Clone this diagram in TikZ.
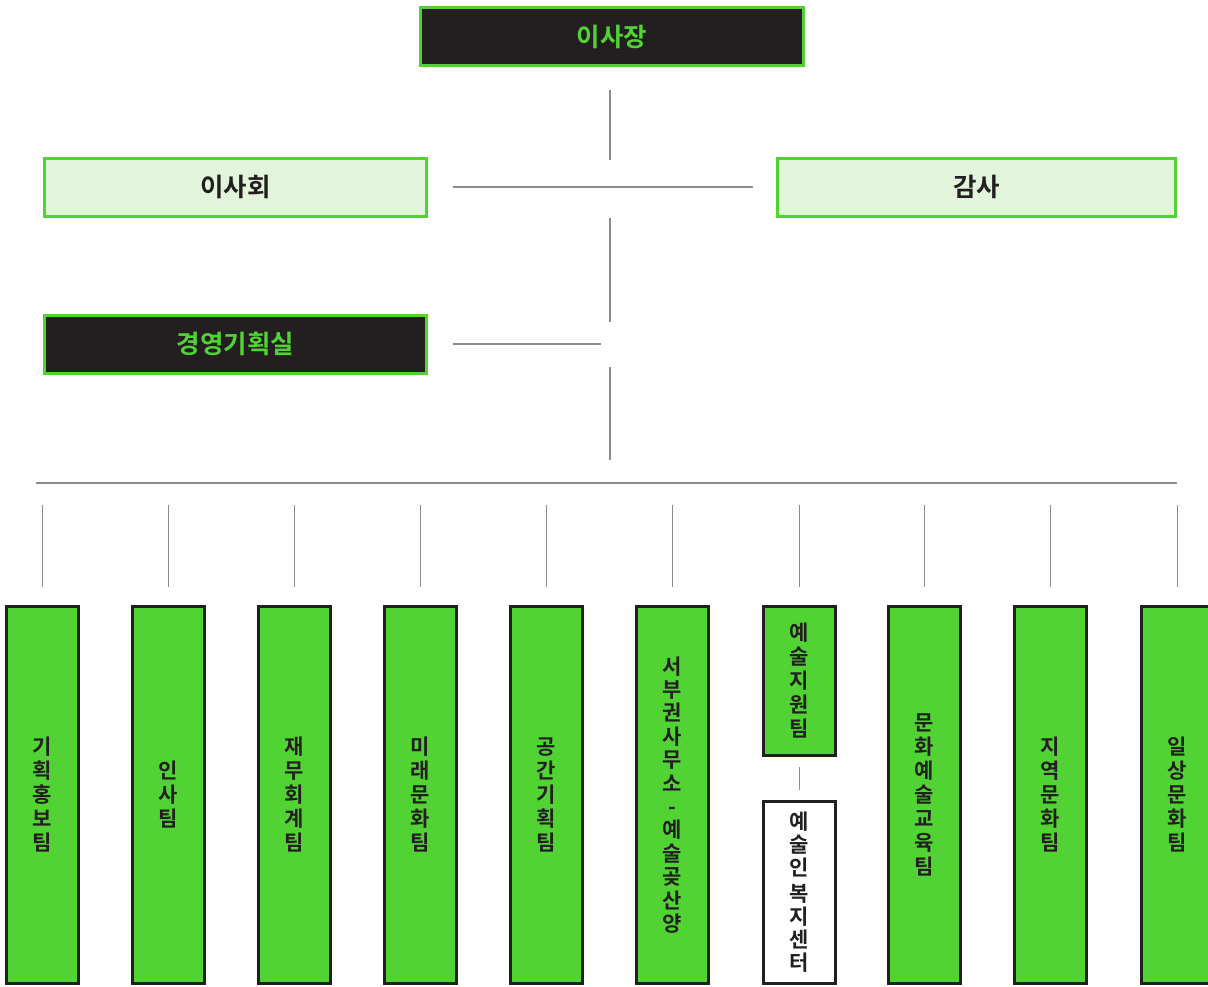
\documentclass[tikz,border=0pt]{standalone}
\usepackage{fontspec}
\setmainfont{Noto Sans CJK KR}[BoldFont={Noto Sans CJK KR Bold}]
\definecolor{ink}{HTML}{231F20}
\definecolor{lime}{HTML}{52D334}
\definecolor{pale}{HTML}{E2F5DA}
\definecolor{wire}{HTML}{8C8C8C}
\tikzset{
  topbox/.style={draw=lime, line width=3pt, inner sep=0pt, minimum height=58pt, font=\bfseries\fontsize{25.5}{30}\selectfont},
  darkbox/.style={topbox, fill=ink, text=lime},
  lightbox/.style={topbox, fill=pale, text=ink},
  team/.style={draw=ink, line width=3pt, fill=lime, text=ink, inner sep=0pt, minimum width=72pt, align=center, font=\bfseries\fontsize{21}{24}\selectfont},
  whiteteam/.style={team, fill=white},
  wireline/.style={draw=wire, line width=1.5pt}
}
\begin{document}
\begin{tikzpicture}[x=1pt,y=-1pt]
\useasboundingbox (0,0) rectangle (1208,986);
% top
\node[darkbox, minimum width=383pt] (ceo) at (612,36.5) {이사장};
\node[lightbox, minimum width=382pt] (board) at (235.5,187) {이사회};
\node[lightbox, minimum width=398pt] (audit) at (976.5,187) {감사};
\node[darkbox, minimum width=382pt] (plan) at (235.5,344) {경영기획실};
\coordinate (c1) at (610,90);
\coordinate (c2) at (610,160);
\coordinate (c3) at (610,218);
\coordinate (c4) at (610,322);
\coordinate (c5) at (601,344);
\coordinate (c6) at (610,367);
\coordinate (c7) at (610,460);
\coordinate (busL) at (36,483);
\coordinate (busR) at (1177,483);
\draw[wireline] (c1) -- (c2);
\draw[wireline] ([xshift=25pt]board.east) -- ([xshift=-23pt]audit.west);
\draw[wireline] (c3) -- (c4);
\draw[wireline] ([xshift=25pt]plan.east) -- (c5 |- plan.east);
\draw[wireline] (c6) -- (c7);
\draw[wireline] (busL) -- (busR);
% teams
\node[team, minimum height=377pt] (t1) at (42.5,795) {기\\획\\홍\\보\\팀};
\node[team, minimum height=377pt] (t2) at (168.5,795) {인\\사\\팀};
\node[team, minimum height=377pt] (t3) at (294.5,795) {재\\무\\회\\계\\팀};
\node[team, minimum height=377pt] (t4) at (420.5,795) {미\\래\\문\\화\\팀};
\node[team, minimum height=377pt] (t5) at (546.5,795) {공\\간\\기\\획\\팀};
\node[team, minimum height=377pt, font=\bfseries\fontsize{21}{23.4}\selectfont] (t6) at (672.5,795) {서\\부\\권\\사\\무\\소\\-\\예\\술\\곶\\산\\양};
\node[team, minimum height=149pt] (t7) at (799.5,681) {예\\술\\지\\원\\팀};
\node[whiteteam, minimum height=182pt, font=\bfseries\fontsize{21}{23}\selectfont] (t7b) at (799.5,892.5) {예\\술\\인\\[3pt]복\\지\\센\\터};
\node[team, minimum height=377pt] (t8) at (924.5,795) {문\\화\\예\\술\\교\\육\\팀};
\node[team, minimum height=377pt] (t9) at (1050.5,795) {지\\역\\문\\화\\팀};
\node[team, minimum height=377pt] (t10) at (1177.5,795) {일\\상\\문\\화\\팀};
\foreach \t in {t1,t2,t3,t4,t5,t6,t7,t8,t9,t10}{
  \draw[wireline] ([yshift=18pt]\t.north) -- ([yshift=100pt]\t.north);
}
\draw[wireline] ([yshift=-10pt]t7.south) -- ([yshift=10pt]t7b.north);
\end{tikzpicture}
\end{document}
